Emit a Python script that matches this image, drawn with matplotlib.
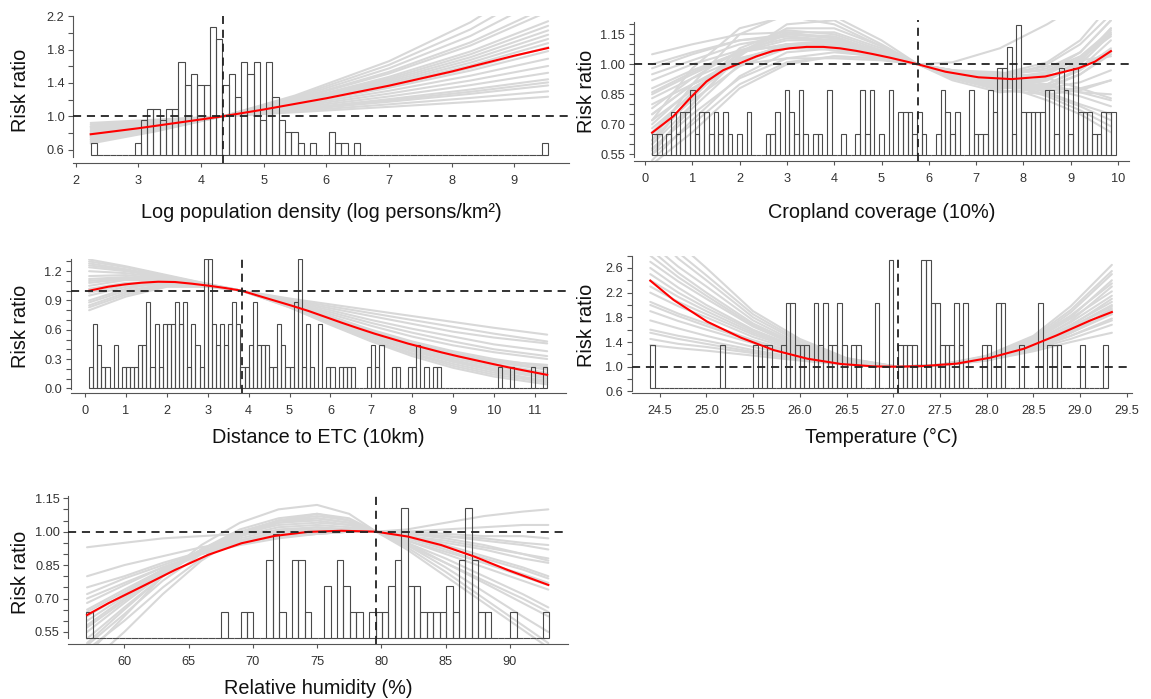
import numpy as np
import matplotlib
matplotlib.use("Agg")
import matplotlib.pyplot as plt
from matplotlib.ticker import FormatStrFormatter

plt.rcParams['font.family'] = ['Liberation Sans', 'DejaVu Sans']

# ---------------- Panel 1: log population density ----------------
p1_bin_start = 2.24
p1_bin_width = 0.1
p1_counts = [1, 0, 0, 0, 0, 0, 0, 1, 3, 4, 4, 3, 4, 4, 8, 6, 7, 6, 6, 11, 10, 6, 7, 5, 8, 7, 8, 3,
             8, 5, 3, 2, 2, 1, 0, 1, 0, 0, 2, 1, 1, 0, 1,
             0, 0, 0, 0, 0, 0, 0, 0, 0, 0, 0, 0, 0, 0, 0, 0, 0, 0, 0, 0, 0, 0, 0, 0, 0, 0, 0, 0, 0, 1]
p1_hist_base = 0.534
p1_hist_unit = 0.1395
p1_ref_x = 4.35
p1_red_x = [2.24, 3.0, 4.0, 4.35, 5.0, 6.0, 7.0, 8.0, 9.0, 9.54]
p1_red_y = [0.784, 0.856, 0.962, 1.0, 1.081, 1.216, 1.367, 1.537, 1.727, 1.82]
p1_grey_x = [2.24, 3.3, 4.35, 5.5, 7.0, 8.3, 9.54]
p1_grey = [
    [0.920, 0.960, 1.0, 1.048, 1.113, 1.172, 1.234],
    [0.901, 0.950, 1.0, 1.060, 1.143, 1.220, 1.300],
    [0.880, 0.940, 1.0, 1.073, 1.174, 1.269, 1.370],
    [0.874, 0.935, 1.0, 1.079, 1.190, 1.294, 1.407],
    [0.864, 0.930, 1.0, 1.085, 1.206, 1.321, 1.444],
    [0.847, 0.921, 1.0, 1.098, 1.238, 1.374, 1.522],
    [0.829, 0.911, 1.0, 1.111, 1.272, 1.429, 1.604],
    [0.812, 0.902, 1.0, 1.124, 1.306, 1.487, 1.691],
    [0.796, 0.893, 1.0, 1.137, 1.341, 1.548, 1.782],
    [0.787, 0.888, 1.0, 1.144, 1.359, 1.579, 1.829],
    [0.779, 0.884, 1.0, 1.151, 1.378, 1.610, 1.878],
    [0.771, 0.879, 1.0, 1.157, 1.396, 1.643, 1.928],
    [0.763, 0.875, 1.0, 1.164, 1.415, 1.676, 1.979],
    [0.755, 0.870, 1.0, 1.171, 1.434, 1.709, 2.031],
    [0.747, 0.866, 1.0, 1.178, 1.453, 1.744, 2.086],
    [0.740, 0.861, 1.0, 1.185, 1.473, 1.778, 2.141],
    [0.724, 0.852, 1.0, 1.199, 1.513, 1.849, 2.257],
    [0.717, 0.848, 1.0, 1.206, 1.533, 1.887, 2.316],
    [0.702, 0.839, 1.0, 1.220, 1.575, 1.964, 2.443],
    [0.688, 0.831, 1.0, 1.234, 1.617, 2.043, 2.573],
    [0.673, 0.822, 1.0, 1.249, 1.661, 2.128, 2.712],
]

# ---------------- Panel 2: cropland coverage ----------------
p2_bin_start = 0.15
p2_bin_width = 0.1
p2_counts = [1, 1, 0, 1, 2, 1, 2, 2, 3, 1, 2, 2, 1, 2, 1, 2, 1, 0, 1, 0,
             2, 0, 0, 0, 1, 1, 2, 0, 3, 2, 1, 3, 1, 0, 1, 1, 0, 3, 0, 0,
             1, 0, 0, 1, 3, 1, 3, 0, 1, 0, 3, 0, 2, 2, 2, 1, 2, 1, 0, 0,
             1, 3, 2, 1, 2, 0, 0, 3, 1, 1, 1, 3, 2, 4, 4, 5, 1, 6, 2, 2,
             2, 2, 2, 3, 3, 1, 4, 3, 1, 4, 2, 2, 2, 1, 1, 2, 2, 2]
p2_hist_base = 0.545
p2_hist_unit = 0.1087
p2_ref_x = 5.77
p2_red_x = [0.15, 0.6, 0.95, 1.3, 1.65, 2.0, 2.36, 2.71, 3.06, 3.42, 3.77, 4.12, 4.47, 4.82,
            5.18, 5.77, 6.35, 7.05, 7.75, 8.46, 9.16, 9.51, 9.85]
p2_red_y = [0.658, 0.74, 0.83, 0.914, 0.97, 1.005, 1.04, 1.067, 1.08, 1.087, 1.087, 1.08, 1.067,
            1.051, 1.033, 1.0, 0.963, 0.935, 0.926, 0.939, 0.98, 1.013, 1.066]
p2_grey_x = [0.15, 1.0, 2.0, 3.0, 4.0, 5.0, 5.77, 6.5, 7.5, 8.5, 9.2, 9.85]
p2_grey = [
    [0.55, 0.80, 1.05, 1.15, 1.14, 1.06, 1.0, 0.95, 0.90, 0.92, 1.00, 1.15],
    [0.60, 0.85, 1.08, 1.17, 1.15, 1.07, 1.0, 0.94, 0.88, 0.90, 0.98, 1.12],
    [0.70, 0.88, 1.02, 1.08, 1.08, 1.04, 1.0, 0.96, 0.93, 0.96, 1.03, 1.14],
    [0.75, 0.90, 1.03, 1.09, 1.09, 1.05, 1.0, 0.96, 0.94, 0.98, 1.06, 1.22],
    [0.85, 0.95, 1.06, 1.12, 1.12, 1.06, 1.0, 0.95, 0.93, 1.00, 1.10, 1.25],
    [1.05, 1.10, 1.15, 1.16, 1.13, 1.06, 1.0, 0.95, 0.92, 0.95, 1.03, 1.15],
    [0.92, 1.00, 1.07, 1.09, 1.07, 1.03, 1.0, 0.97, 0.92, 0.86, 0.80, 0.75],
    [0.58, 0.75, 0.93, 1.03, 1.06, 1.04, 1.0, 0.96, 0.90, 0.82, 0.75, 0.66],
    [0.65, 0.82, 0.99, 1.08, 1.10, 1.05, 1.0, 0.96, 0.93, 0.94, 0.99, 1.07],
    [0.80, 0.90, 1.02, 1.10, 1.12, 1.07, 1.0, 0.94, 0.89, 0.90, 0.97, 1.08],
    [0.95, 1.02, 1.10, 1.14, 1.12, 1.06, 1.0, 0.95, 0.92, 0.96, 1.06, 1.22],
    [0.55, 0.70, 0.90, 1.01, 1.04, 1.03, 1.0, 0.97, 0.94, 0.90, 0.86, 0.82],
    [1.00, 1.06, 1.12, 1.14, 1.11, 1.05, 1.0, 0.96, 0.95, 1.01, 1.12, 1.30],
    [0.68, 0.85, 1.02, 1.10, 1.11, 1.05, 1.0, 0.96, 0.95, 0.99, 1.02, 1.04],
    [0.88, 0.97, 1.06, 1.10, 1.09, 1.04, 1.0, 0.97, 0.96, 0.93, 0.88, 0.83],
    [0.60, 0.80, 1.04, 1.20, 1.22, 1.10, 1.0, 0.93, 0.88, 0.89, 0.95, 1.05],
    [0.75, 0.90, 1.00, 1.03, 1.03, 1.02, 1.0, 1.01, 1.08, 1.20, 1.30, 1.40],
    [0.62, 0.90, 1.15, 1.25, 1.24, 1.12, 1.0, 0.92, 0.86, 0.88, 0.95, 1.06],
    [0.72, 0.98, 1.18, 1.24, 1.20, 1.09, 1.0, 0.93, 0.88, 0.92, 1.02, 1.18],
    [0.57, 0.78, 1.00, 1.10, 1.10, 1.05, 1.0, 0.95, 0.91, 0.93, 1.01, 1.18],
    [0.78, 0.93, 1.07, 1.13, 1.12, 1.06, 1.0, 0.94, 0.90, 0.93, 1.02, 1.16],
    [0.66, 0.86, 1.06, 1.16, 1.16, 1.08, 1.0, 0.94, 0.89, 0.87, 0.88, 0.92],
    [0.83, 0.93, 1.03, 1.08, 1.08, 1.04, 1.0, 0.97, 0.95, 0.97, 1.04, 1.17],
    [0.98, 1.05, 1.12, 1.15, 1.13, 1.06, 1.0, 0.95, 0.90, 0.88, 0.91, 0.97],
    [0.62, 0.83, 1.06, 1.18, 1.18, 1.09, 1.0, 0.93, 0.87, 0.85, 0.87, 0.92],
    [0.52, 0.72, 0.94, 1.06, 1.08, 1.05, 1.0, 0.96, 0.91, 0.85, 0.79, 0.72],
    [0.86, 0.96, 1.06, 1.10, 1.08, 1.04, 1.0, 0.96, 0.91, 0.84, 0.77, 0.69],
    [0.72, 0.87, 1.02, 1.09, 1.09, 1.05, 1.0, 0.96, 0.92, 0.88, 0.84, 0.79],
    [0.50, 0.66, 0.88, 1.00, 1.04, 1.03, 1.0, 0.97, 0.93, 0.89, 0.86, 0.85],
]

# ---------------- Panel 3: distance to ETC ----------------
p3_bin_start = 0.1
p3_bin_width = 0.1
p3_counts = [1, 3, 2, 1, 1, 0, 2, 0, 1, 1, 1, 1, 2, 2, 4, 1, 3, 1, 3, 3,
             3, 4, 3, 4, 1, 3, 2, 1, 6, 6, 3, 2, 3, 2, 3, 4, 3, 1, 1, 2,
             4, 2, 2, 2, 1, 1, 3, 2, 1, 1, 4, 6, 1, 3, 1, 0, 3, 0, 1, 1,
             0, 1, 1, 1, 1, 0, 0, 0, 1, 2, 1, 2, 0, 0, 1, 1, 0, 0, 1, 1,
             2, 0, 1, 0, 1, 1, 0, 0, 0, 0, 0, 0, 0, 0, 0, 0, 0, 0, 0, 0,
             1, 0, 0, 1, 0, 0, 0, 0, 1, 0, 0, 1]
p3_hist_base = 0.0
p3_hist_unit = 0.221
p3_ref_x = 3.83
p3_red_x = [0.1, 0.57, 0.98, 1.38, 1.79, 2.20, 2.61, 3.01, 3.42, 3.83, 4.23, 4.64, 5.05, 5.46,
            5.86, 6.27, 6.68, 7.08, 7.49, 7.90, 8.31, 8.71, 9.12, 9.53, 9.93, 10.34, 10.75, 11.3]
p3_red_y = [1.0, 1.041, 1.065, 1.082, 1.092, 1.089, 1.072, 1.052, 1.028, 1.0, 0.949, 0.898, 0.847,
            0.793, 0.734, 0.673, 0.615, 0.560, 0.509, 0.458, 0.413, 0.369, 0.328, 0.290, 0.253,
            0.216, 0.182, 0.138]
p3_grey_x = [0.1, 1.0, 2.0, 3.0, 3.83, 5.0, 6.0, 7.0, 8.0, 9.0, 10.0, 11.3]
p3_grey = [
    [1.32, 1.25, 1.16, 1.07, 1.0, 0.92, 0.86, 0.80, 0.74, 0.68, 0.62, 0.55],
    [1.28, 1.22, 1.14, 1.06, 1.0, 0.90, 0.82, 0.74, 0.66, 0.58, 0.52, 0.46],
    [1.20, 1.18, 1.13, 1.06, 1.0, 0.88, 0.76, 0.64, 0.53, 0.44, 0.37, 0.30],
    [1.10, 1.13, 1.12, 1.06, 1.0, 0.87, 0.74, 0.60, 0.48, 0.38, 0.30, 0.22],
    [1.02, 1.08, 1.09, 1.05, 1.0, 0.86, 0.72, 0.57, 0.44, 0.33, 0.25, 0.16],
    [0.95, 1.04, 1.08, 1.05, 1.0, 0.85, 0.70, 0.54, 0.40, 0.29, 0.20, 0.12],
    [0.85, 0.98, 1.06, 1.05, 1.0, 0.84, 0.67, 0.50, 0.36, 0.25, 0.16, 0.08],
    [0.80, 0.94, 1.04, 1.04, 1.0, 0.83, 0.65, 0.48, 0.33, 0.21, 0.12, 0.04],
    [1.15, 1.16, 1.12, 1.06, 1.0, 0.86, 0.72, 0.58, 0.45, 0.35, 0.27, 0.19],
    [0.90, 1.02, 1.09, 1.06, 1.0, 0.85, 0.69, 0.53, 0.39, 0.28, 0.19, 0.10],
    [1.24, 1.20, 1.14, 1.06, 1.0, 0.89, 0.80, 0.70, 0.61, 0.53, 0.45, 0.38],
    [1.05, 1.11, 1.11, 1.06, 1.0, 0.85, 0.70, 0.55, 0.42, 0.31, 0.22, 0.14],
    [0.88, 1.00, 1.07, 1.05, 1.0, 0.84, 0.68, 0.52, 0.38, 0.27, 0.18, 0.06],
    [1.30, 1.24, 1.15, 1.07, 1.0, 0.91, 0.84, 0.77, 0.70, 0.63, 0.56, 0.48],
    [1.26, 1.21, 1.14, 1.06, 1.0, 0.88, 0.78, 0.67, 0.57, 0.48, 0.40, 0.33],
    [0.98, 1.06, 1.09, 1.05, 1.0, 0.86, 0.71, 0.56, 0.42, 0.31, 0.23, 0.15],
    [1.12, 1.14, 1.12, 1.06, 1.0, 0.87, 0.73, 0.59, 0.46, 0.36, 0.28, 0.20],
    [0.83, 0.96, 1.05, 1.04, 1.0, 0.83, 0.66, 0.49, 0.35, 0.23, 0.14, 0.06],
    [1.08, 1.12, 1.11, 1.06, 1.0, 0.86, 0.72, 0.58, 0.46, 0.36, 0.28, 0.24],
]

# ---------------- Panel 4: temperature ----------------
p4_bin_start = 24.4
p4_bin_width = 0.05
p4_counts = [1, 0, 0, 0, 0, 0, 0, 0, 0, 0, 0, 0, 0, 0, 0, 1, 0, 0, 0, 0,
             0, 0, 1, 0, 1, 1, 0, 0, 1, 2, 2, 1, 1, 1, 0, 2, 1, 2, 1, 1,
             2, 1, 0, 1, 1, 0, 0, 0, 2, 0, 0, 3, 0, 1, 1, 1, 1, 0, 3, 3,
             2, 2, 1, 1, 1, 2, 1, 2, 0, 0, 0, 1, 1, 0, 2, 2, 0, 0, 0, 1,
             0, 0, 0, 2, 0, 1, 1, 1, 0, 0, 0, 0, 1, 0, 0, 0, 0, 1]
p4_hist_base = 0.66
p4_hist_unit = 0.69
p4_ref_x = 27.05
p4_red_x = [24.4, 24.65, 25.01, 25.37, 25.72, 26.08, 26.44, 26.79, 27.05, 27.33, 27.68, 28.04,
            28.40, 28.75, 29.11, 29.34]
p4_red_y = [2.394, 2.081, 1.729, 1.47, 1.27, 1.13, 1.044, 1.005, 1.0, 1.011, 1.05, 1.146, 1.292,
            1.508, 1.75, 1.886]
p4_grey_x = [24.4, 24.7, 25.0, 25.5, 26.0, 26.5, 27.05, 27.5, 28.0, 28.5, 28.9, 29.34]
p4_grey = [
    [3.2, 2.75, 2.4, 1.8, 1.4, 1.12, 1.0, 1.02, 1.12, 1.32, 1.55, 1.85],
    [2.9, 2.52, 2.2, 1.7, 1.35, 1.1, 1.0, 1.02, 1.13, 1.35, 1.62, 1.98],
    [2.6, 2.28, 2.0, 1.6, 1.3, 1.08, 1.0, 1.02, 1.12, 1.30, 1.50, 1.78],
    [2.2, 1.98, 1.8, 1.48, 1.24, 1.07, 1.0, 1.03, 1.15, 1.40, 1.72, 2.15],
    [1.9, 1.74, 1.6, 1.38, 1.2, 1.06, 1.0, 1.03, 1.16, 1.45, 1.83, 2.35],
    [1.6, 1.50, 1.42, 1.27, 1.14, 1.04, 1.0, 1.03, 1.14, 1.38, 1.74, 2.3],
    [1.35, 1.30, 1.26, 1.18, 1.10, 1.03, 1.0, 1.02, 1.10, 1.28, 1.55, 1.95],
    [2.4, 2.13, 1.9, 1.55, 1.28, 1.08, 1.0, 1.02, 1.10, 1.25, 1.40, 1.55],
    [3.5, 3.0, 2.6, 1.9, 1.45, 1.14, 1.0, 1.02, 1.13, 1.37, 1.68, 2.05],
    [2.05, 1.86, 1.7, 1.43, 1.22, 1.06, 1.0, 1.03, 1.17, 1.48, 1.92, 2.55],
    [2.7, 2.38, 2.1, 1.65, 1.32, 1.09, 1.0, 1.02, 1.11, 1.28, 1.45, 1.68],
    [1.75, 1.62, 1.5, 1.32, 1.17, 1.05, 1.0, 1.03, 1.15, 1.42, 1.80, 2.40],
    [3.0, 2.62, 2.3, 1.75, 1.37, 1.11, 1.0, 1.02, 1.12, 1.33, 1.58, 1.92],
    [2.3, 2.05, 1.85, 1.52, 1.26, 1.07, 1.0, 1.02, 1.13, 1.36, 1.64, 2.0],
    [1.45, 1.37, 1.32, 1.22, 1.12, 1.04, 1.0, 1.03, 1.18, 1.50, 1.98, 2.65],
    [2.5, 2.2, 1.95, 1.58, 1.30, 1.08, 1.0, 1.02, 1.14, 1.38, 1.66, 2.1],
    [2.8, 2.45, 2.15, 1.67, 1.33, 1.09, 1.0, 1.02, 1.12, 1.31, 1.55, 1.87],
    [2.0, 1.82, 1.66, 1.41, 1.21, 1.06, 1.0, 1.03, 1.15, 1.42, 1.78, 2.22],
    [3.3, 2.85, 2.48, 1.85, 1.42, 1.13, 1.0, 1.02, 1.11, 1.29, 1.50, 1.75],
    [1.55, 1.45, 1.37, 1.24, 1.13, 1.04, 1.0, 1.03, 1.16, 1.45, 1.88, 2.5],
]

# ---------------- Panel 5: relative humidity ----------------
p5_bin_start = 57.05
p5_bin_width = 0.5
p5_counts = [1, 0, 0, 0, 0, 0, 0, 0, 0, 0, 0, 0, 0, 0, 0, 0, 0, 0, 0, 0,
             0, 1, 0, 0, 1, 1, 0, 0, 3, 4, 1, 0, 3, 3, 1, 0, 0, 2, 0, 3,
             2, 1, 1, 0, 1, 1, 1, 2, 3, 5, 2, 2, 1, 1, 1, 1, 2, 1, 3, 5,
             3, 1, 1, 0, 0, 0, 1, 0, 0, 0, 0, 1]
p5_hist_base = 0.524
p5_hist_unit = 0.116
p5_ref_x = 79.6
p5_red_x = [57.1, 58.76, 61.35, 63.94, 66.53, 69.12, 71.71, 74.30, 76.89, 79.6, 82.07, 84.66,
            87.25, 89.84, 93.0]
p5_red_y = [0.626, 0.679, 0.753, 0.828, 0.896, 0.948, 0.981, 0.999, 1.004, 1.0, 0.978, 0.94,
            0.888, 0.828, 0.761]
p5_grey_x = [57.1, 60, 63, 66, 69, 72, 75, 77.5, 79.6, 82, 85, 88, 91, 93]
p5_grey = [
    [0.93, 0.95, 0.97, 0.98, 0.99, 1.0, 1.0, 1.0, 1.0, 1.01, 1.04, 1.07, 1.09, 1.10],
    [0.45, 0.62, 0.80, 0.94, 1.04, 1.10, 1.12, 1.08, 1.0, 0.92, 0.80, 0.68, 0.56, 0.48],
    [0.50, 0.65, 0.80, 0.92, 1.0, 1.05, 1.06, 1.04, 1.0, 0.95, 0.88, 0.80, 0.72, 0.66],
    [0.55, 0.68, 0.81, 0.91, 0.98, 1.02, 1.03, 1.02, 1.0, 0.97, 0.93, 0.88, 0.83, 0.79],
    [0.60, 0.71, 0.82, 0.90, 0.96, 1.0, 1.02, 1.01, 1.0, 0.98, 0.96, 0.93, 0.90, 0.88],
    [0.65, 0.74, 0.83, 0.90, 0.95, 0.98, 1.0, 1.0, 1.0, 0.99, 0.98, 0.97, 0.95, 0.94],
    [0.70, 0.77, 0.84, 0.90, 0.94, 0.97, 0.99, 1.0, 1.0, 1.0, 0.99, 0.98, 0.98, 0.97],
    [0.75, 0.80, 0.86, 0.91, 0.95, 0.98, 0.99, 1.0, 1.0, 0.99, 0.97, 0.94, 0.90, 0.87],
    [0.52, 0.66, 0.80, 0.92, 1.01, 1.06, 1.08, 1.05, 1.0, 0.94, 0.84, 0.73, 0.62, 0.55],
    [0.58, 0.70, 0.82, 0.92, 0.99, 1.04, 1.05, 1.03, 1.0, 0.96, 0.90, 0.84, 0.78, 0.74],
    [0.80, 0.85, 0.89, 0.93, 0.96, 0.98, 0.99, 1.0, 1.0, 1.0, 1.01, 1.02, 1.03, 1.03],
    [0.47, 0.60, 0.75, 0.88, 0.98, 1.04, 1.06, 1.04, 1.0, 0.95, 0.86, 0.77, 0.68, 0.62],
    [0.62, 0.72, 0.83, 0.91, 0.97, 1.01, 1.02, 1.01, 1.0, 0.97, 0.92, 0.86, 0.80, 0.76],
    [0.68, 0.76, 0.84, 0.90, 0.95, 0.99, 1.01, 1.01, 1.0, 0.98, 0.94, 0.89, 0.84, 0.80],
    [0.40, 0.55, 0.72, 0.87, 0.98, 1.05, 1.08, 1.06, 1.0, 0.93, 0.82, 0.70, 0.58, 0.50],
    [0.57, 0.69, 0.82, 0.92, 0.99, 1.03, 1.04, 1.03, 1.0, 0.96, 0.91, 0.86, 0.81, 0.77],
    [0.64, 0.73, 0.83, 0.91, 0.96, 1.0, 1.01, 1.01, 1.0, 0.98, 0.95, 0.92, 0.88, 0.86],
    [0.49, 0.63, 0.78, 0.90, 0.99, 1.05, 1.07, 1.05, 1.0, 0.94, 0.86, 0.78, 0.70, 0.64],
    [0.72, 0.79, 0.85, 0.91, 0.95, 0.98, 1.0, 1.0, 1.0, 0.99, 0.98, 0.96, 0.94, 0.92],
]

# ---------------- labels ----------------
x_labels = ["Log population density (log persons/km\u00b2)", "Cropland coverage (10%)",
            "Distance to ETC (10km)", "Temperature (\u00b0C)", "Relative humidity (%)"]
y_label = "Risk ratio"

# ---------------- layout (pixels) ----------------
W, H = 1151, 699
fig = plt.figure(figsize=(W / 100, H / 100), dpi=100)


def box(l, t, r, b):
    return [l / W, 1 - b / H, (r - l) / W, (b - t) / H]


panels = [
    dict(box=(73, 16.3, 569, 163), xlim=(1.957, 9.873), ylim=(0.439, 2.2), ybnd=(0.515, 2.2),
         xt=np.arange(2, 10, 1), xfmt='%d', yt=np.arange(0.6, 2.21, 0.4), ytm=np.arange(0.6, 2.21, 0.2),
         yfmt='%.1f', start=p1_bin_start, width=p1_bin_width, counts=p1_counts, base=p1_hist_base,
         unit=p1_hist_unit, ref=p1_ref_x, rx=p1_red_x, ry=p1_red_y, gx=p1_grey_x, g=p1_grey,
         xl=(321, 212), yl=(20, 90)),
    dict(box=(633.7, 20.3, 1129.3, 161), xlim=(-0.238, 10.238), ylim=(0.5165, 1.22), ybnd=(0.535, 1.21),
         xt=np.arange(0, 11, 1), xfmt='%d', yt=np.arange(0.55, 1.16, 0.15), ytm=np.arange(0.55, 1.21, 0.05),
         yfmt='%.2f', start=p2_bin_start, width=p2_bin_width, counts=p2_counts, base=p2_hist_base,
         unit=p2_hist_unit, ref=p2_ref_x, rx=p2_red_x, ry=p2_red_y, gx=p2_grey_x, g=p2_grey,
         xl=(881.5, 212), yl=(586, 91)),
    dict(box=(70.8, 258.5, 565.5, 393.3), xlim=(-0.348, 11.748), ylim=(-0.051, 1.33), ybnd=(-0.005, 1.33),
         xt=np.arange(0, 12, 1), xfmt='%d', yt=np.arange(0, 1.21, 0.3), ytm=np.arange(0, 1.31, 0.1),
         yfmt='%.1f', start=p3_bin_start, width=p3_bin_width, counts=p3_counts, base=p3_hist_base,
         unit=p3_hist_unit, ref=p3_ref_x, rx=p3_red_x, ry=p3_red_y, gx=p3_grey_x, g=p3_grey,
         xl=(318, 437), yl=(20, 326)),
    dict(box=(631.6, 255.6, 1131.5, 393.3), xlim=(24.2, 29.55), ylim=(0.569, 2.8), ybnd=(0.6, 2.8),
         xt=np.arange(24.5, 29.51, 0.5), xfmt='%.1f', yt=np.arange(0.6, 2.61, 0.4), ytm=np.arange(0.6, 2.81, 0.2),
         yfmt='%.1f', start=p4_bin_start, width=p4_bin_width, counts=p4_counts, base=p4_hist_base,
         unit=p4_hist_unit, ref=p4_ref_x, rx=p4_red_x, ry=p4_red_y, gx=p4_grey_x, g=p4_grey,
         xl=(881.5, 437), yl=(586, 325)),
    dict(box=(68.4, 496, 567.6, 644), xlim=(55.65, 94.5), ylim=(0.496, 1.16), ybnd=(0.524, 1.16),
         xt=np.arange(60, 91, 5), xfmt='%d', yt=np.arange(0.55, 1.16, 0.15), ytm=np.arange(0.55, 1.16, 0.05),
         yfmt='%.2f', start=p5_bin_start, width=p5_bin_width, counts=p5_counts, base=p5_hist_base,
         unit=p5_hist_unit, ref=p5_ref_x, rx=p5_red_x, ry=p5_red_y, gx=p5_grey_x, g=p5_grey,
         xl=(318, 688), yl=(20, 572)),
]

spine_col = '#555555'
for i, p in enumerate(panels):
    ax = fig.add_axes(box(*p['box']))
    ax.set_xlim(*p['xlim'])
    ax.set_ylim(*p['ylim'])
    # grey ensemble curves
    for g in p['g']:
        ax.plot(p['gx'], g, color='#d8d8d8', lw=1.5, zorder=1, solid_capstyle='round')
    # histogram (secondary scale drawn on the risk-ratio axis)
    counts = np.array(p['counts'], dtype=float)
    lefts = p['start'] + p['width'] * np.arange(len(counts))
    ax.bar(lefts, counts * p['unit'], width=p['width'], bottom=p['base'], align='edge',
           facecolor='none', edgecolor='#4a4a4a', linewidth=0.8, zorder=2)
    # fitted curve
    ax.plot(p['rx'], p['ry'], color='red', lw=1.5, zorder=3)
    # reference lines
    ax.axhline(1.0, color='#222222', lw=1.3, dashes=(4.5, 3.2), zorder=4)
    ax.axvline(p['ref'], color='#222222', lw=1.3, dashes=(4.5, 3.2), zorder=4)
    # axes styling
    for s in ['top', 'right']:
        ax.spines[s].set_visible(False)
    for s in ['left', 'bottom']:
        ax.spines[s].set_color(spine_col)
        ax.spines[s].set_linewidth(0.8)
    ax.spines['left'].set_bounds(*p['ybnd'])
    ax.set_xticks(p['xt'])
    ax.xaxis.set_major_formatter(FormatStrFormatter(p['xfmt']))
    ax.set_yticks(p['yt'])
    ax.set_yticks(p['ytm'], minor=True)
    ax.yaxis.set_major_formatter(FormatStrFormatter(p['yfmt']))
    ax.tick_params(axis='x', which='both', direction='out', length=3.2, width=0.8, color=spine_col,
                   labelsize=9.2, labelcolor='#333333', pad=5.5)
    ax.tick_params(axis='y', which='both', direction='out', length=3.6, width=0.8, color=spine_col,
                   labelsize=9.2, labelcolor='#333333', pad=2.6)
    ax.patch.set_alpha(0)
    # axis titles
    fig.text(p['xl'][0] / W, 1 - p['xl'][1] / H, x_labels[i], ha='center', va='center',
             fontsize=14.3, color='#111111')
    fig.text(p['yl'][0] / W, 1 - p['yl'][1] / H, y_label, ha='center', va='center',
             rotation=90, fontsize=14.3, color='#111111')

fig.savefig('out.png', dpi=100, facecolor='white')
